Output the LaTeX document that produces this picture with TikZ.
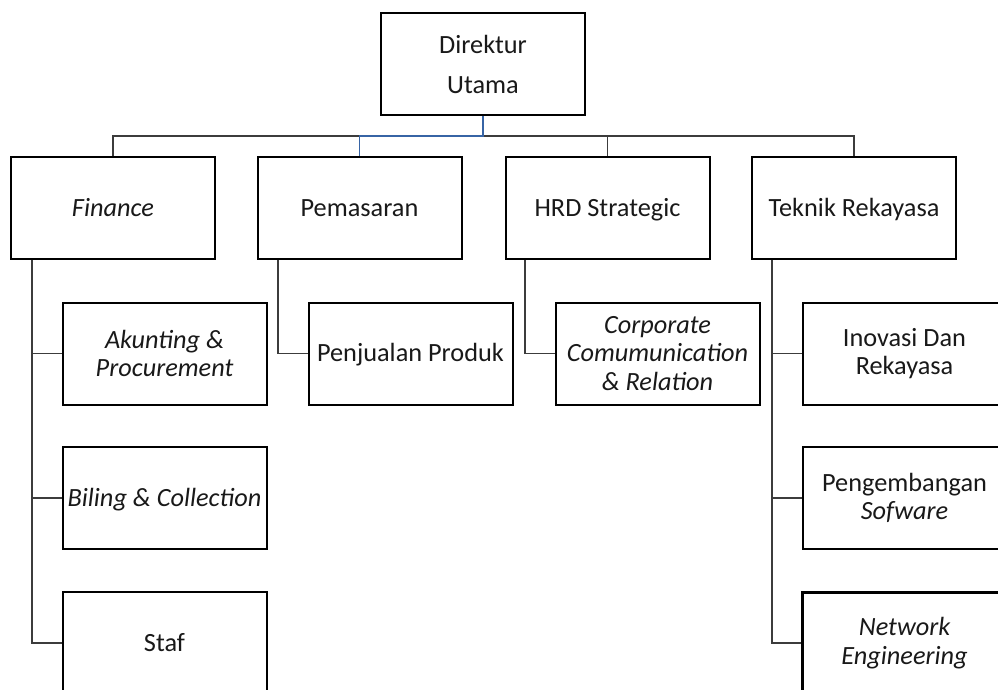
\documentclass[tikz,border=0pt]{standalone}
\usepackage{fontspec}
\setmainfont{Carlito}
\definecolor{connblue}{RGB}{55,100,165}
\definecolor{conngray}{RGB}{60,60,60}
\begin{document}
\begin{tikzpicture}[x=1pt,y=-1pt,
  box/.style={draw=black,line width=2pt,fill=white,minimum width=204pt,minimum height=102pt,inner sep=0pt,align=center,
    font=\fontsize{26.3}{28.5}\selectfont,text=black!90},
  single/.style={box,text height=16.7pt,text depth=0pt},
  conn/.style={draw=conngray,line width=1.1pt},
  bconn/.style={draw=connblue,line width=1.8pt}]
\useasboundingbox (0,0) rectangle (998,690);
% level 0
\node[box,font=\fontsize{26.3}{40}\selectfont] (top) at (483,64) {Direktur\\Utama};
% level 1
\node[single] (fin) at (113,208) {\itshape Finance};
\node[single] (pem) at (359.5,208) {Pemasaran};
\node[single] (hrd) at (607.5,208) {HRD Strategic};
\node[single] (tek) at (854,208) {Teknik Rekayasa};
% level 2
\node[box] (aku) at (164.5,353.5) {\itshape Akunting \&\\\itshape Procurement};
\node[single] (bil) at (164.5,498) {\itshape Biling \& Collection};
\node[single] (stf) at (164.5,643) {Staf};
\node[single] (pen) at (410.5,353.5) {Penjualan Produk};
\node[box] (cor) at (657.5,353.5) {\itshape Corporate\\\itshape Comumunication\\\itshape \& Relation};
\node[box] (ino) at (904.5,353.5) {Inovasi Dan\\Rekayasa};
\node[box] (sof) at (904.5,498) {Pengembangan\\\itshape Sofware};
\node[box,line width=3pt] (net) at (904.5,643) {\itshape Network\\\itshape Engineering};
% bus
\coordinate (bus) at (483,136);
\draw[conn] (fin.north) |- (bus) -| (tek.north);
\draw[conn] (bus) -| (hrd.north);
\draw[bconn] (top.south) -- (bus) -| (pem.north);
% drops
\coordinate (finD) at ([xshift=-81pt]fin.south);
\coordinate (pemD) at ([xshift=-81.5pt]pem.south);
\coordinate (hrdD) at ([xshift=-82.5pt]hrd.south);
\coordinate (tekD) at ([xshift=-82pt]tek.south);
\draw[conn] (finD) |- (aku.west);
\draw[conn] (finD) |- (bil.west);
\draw[conn] (finD) |- (stf.west);
\draw[conn] (pemD) |- (pen.west);
\draw[conn] (hrdD) |- (cor.west);
\draw[conn] (tekD) |- (ino.west);
\draw[conn] (tekD) |- (sof.west);
\draw[conn] (tekD) |- (net.west);
\end{tikzpicture}
\end{document}
